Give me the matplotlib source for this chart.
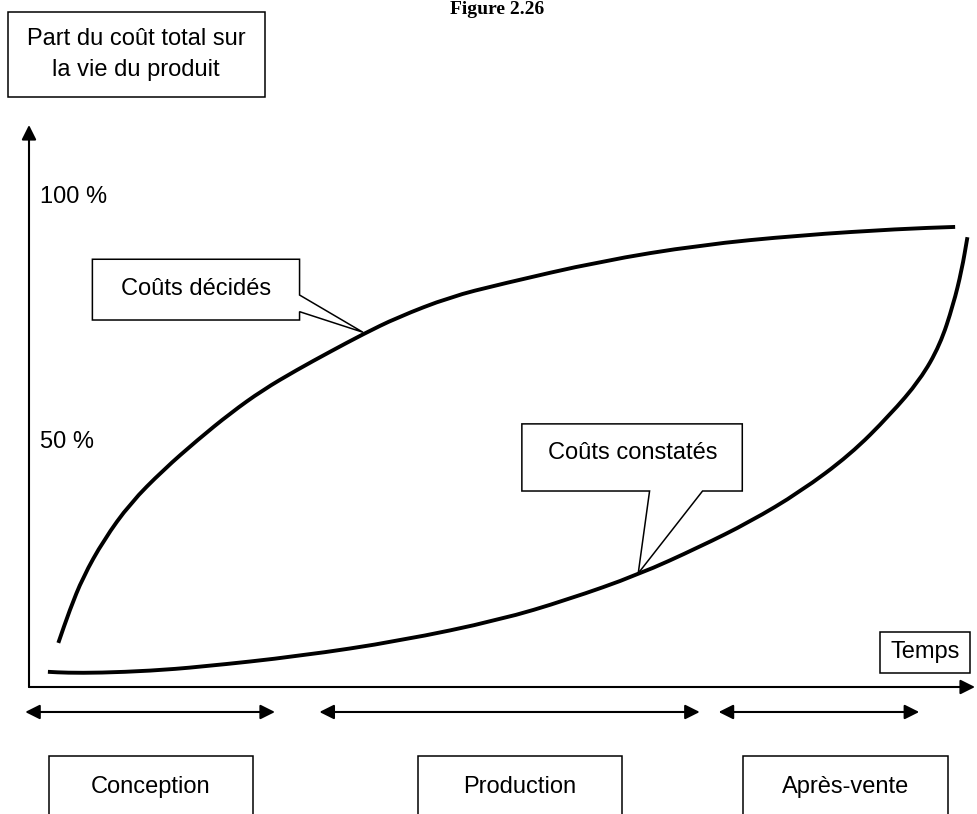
"""Figure 2.26 - couts decides / couts constates"""

import matplotlib.pyplot as plt
from matplotlib.patches import Polygon, Rectangle, PathPatch
from matplotlib.path import Path

plt.rcParams["font.family"] = ["Liberation Sans", "DejaVu Sans"]

# time axis 0..100, cost share in %
decides_t = [3.1, 4.3, 5.7, 7.9, 10.7, 14.2, 17.8, 21.3, 24.7, 28.3, 31.8, 35.3, 38.9,
             44.5, 49.8, 60.4, 70.9, 81.5, 92.1, 97.9]
decides_pct = [9.0, 15.7, 22.4, 30.0, 37.5, 44.3, 50.4, 55.9, 60.6, 64.7, 68.4, 72.0, 75.4,
               79.6, 82.2, 86.9, 90.2, 92.2, 93.5, 93.9]

constates_t = [2.0, 4.0, 7.5, 12.8, 18.1, 28.6, 39.2, 49.8, 56.9, 64.4, 70.9, 76.2, 81.5,
               86.8, 91.0, 94.2, 96.3, 97.7, 98.6, 99.2]
constates_pct = [3.1, 2.9, 2.9, 3.3, 4.1, 6.3, 9.4, 13.7, 17.8, 22.9, 28.6, 33.7, 39.8,
                 47.4, 55.5, 62.7, 69.8, 78.0, 85.1, 91.8]

y_ticks = [100, 50]
y_tick_labels = ["100 %", "50 %"]

phases = ["Conception", "Production", "Après-vente"]
phase_start = [-0.4, 30.7, 72.9]
phase_end = [26.0, 70.9, 94.1]
phase_box_center = [12.9, 51.9, 86.3]

Y_TOP = 114.7
LW_BOX = 1.1
FS = 17


def smooth_path(xs, ys):
    # quadratic bezier through midpoints, so the curve has no corners
    pts = list(zip(xs, ys))
    verts = [pts[0]]
    codes = [Path.MOVETO]
    verts.append(((pts[0][0] + pts[1][0]) / 2, (pts[0][1] + pts[1][1]) / 2))
    codes.append(Path.LINETO)
    for i in range(1, len(pts) - 1):
        nxt = ((pts[i][0] + pts[i + 1][0]) / 2, (pts[i][1] + pts[i + 1][1]) / 2)
        verts += [pts[i], nxt]
        codes += [Path.CURVE3, Path.CURVE3]
    verts.append(pts[-1])
    codes.append(Path.LINETO)
    return Path(verts, codes)


fig = plt.figure(figsize=(9.77, 8.14), dpi=100)
ax = fig.add_axes([29 / 977, (814 - 687) / 814, (975 - 29) / 977, (687 - 125) / 814])
ax.set_xlim(0, 100)
ax.set_ylim(0, Y_TOP)
ax.axis("off")

# axes with arrows
arrow = dict(arrowstyle="-|>", lw=1.5, color="black", mutation_scale=22, shrinkA=0, shrinkB=0)
ax.annotate("", xy=(0, Y_TOP), xytext=(0, 0), arrowprops=arrow, annotation_clip=False)
ax.annotate("", xy=(100, 0), xytext=(0, 0), arrowprops=arrow, annotation_clip=False)

# curves
for xs, ys in [(decides_t, decides_pct), (constates_t, constates_pct)]:
    ax.add_patch(PathPatch(smooth_path(xs, ys), fill=False, edgecolor="black", lw=2.8,
                           capstyle="butt", clip_on=False))

for val, lab in zip(y_ticks, y_tick_labels):
    ax.text(1.2, val, lab, fontsize=FS, ha="left", va="center")

# callouts
call_dec = [(6.7, 87.3), (28.6, 87.3), (28.6, 80.0), (35.3, 72.4), (28.6, 76.6),
            (28.6, 74.9), (6.7, 74.9)]
ax.add_patch(Polygon(call_dec, closed=True, fill=True, facecolor="white",
                     edgecolor="black", lw=LW_BOX, clip_on=False, zorder=3))
ax.text(17.7, 81.2, "Coûts décidés", fontsize=FS, ha="center", va="center", zorder=4)

call_con = [(52.1, 53.7), (75.4, 53.7), (75.4, 40.0), (71.2, 40.0), (64.4, 23.2),
            (65.6, 40.0), (52.1, 40.0)]
ax.add_patch(Polygon(call_con, closed=True, fill=True, facecolor="white",
                     edgecolor="black", lw=LW_BOX, clip_on=False, zorder=3))
ax.text(63.8, 47.8, "Coûts constatés", fontsize=FS, ha="center", va="center", zorder=4)

# Temps box
ax.add_patch(Rectangle((90.0, 2.9), 9.5, 8.3, fill=False, edgecolor="black",
                       lw=LW_BOX, clip_on=False))
ax.text(94.75, 7.1, "Temps", fontsize=FS, ha="center", va="center")

# y axis title box
ax.add_patch(Rectangle((-2.2, 120.4), 27.1, 17.4, fill=False, edgecolor="black",
                       lw=LW_BOX, clip_on=False))
ax.text(11.3, 129.1, "Part du coût total sur\nla vie du produit", fontsize=FS,
        ha="center", va="center", linespacing=1.5)

# phases
dbl = dict(arrowstyle="<|-|>", lw=1.5, color="black", mutation_scale=22, shrinkA=0, shrinkB=0)
for name, s, e, c in zip(phases, phase_start, phase_end, phase_box_center):
    ax.annotate("", xy=(e, -5.1), xytext=(s, -5.1), arrowprops=dbl, annotation_clip=False)
    ax.add_patch(Rectangle((c - 10.8, -30), 21.6, 15.9, fill=False, edgecolor="black",
                           lw=LW_BOX, clip_on=False))
    ax.text(c, -20.5, name, fontsize=FS, ha="center", va="center")

fig.text(497 / 977, 1 - 1 / 814, "Figure 2.26", fontsize=14, fontweight="bold",
         family="Liberation Serif", ha="center", va="top")

plt.savefig("out.png", format="png")
plt.close()
